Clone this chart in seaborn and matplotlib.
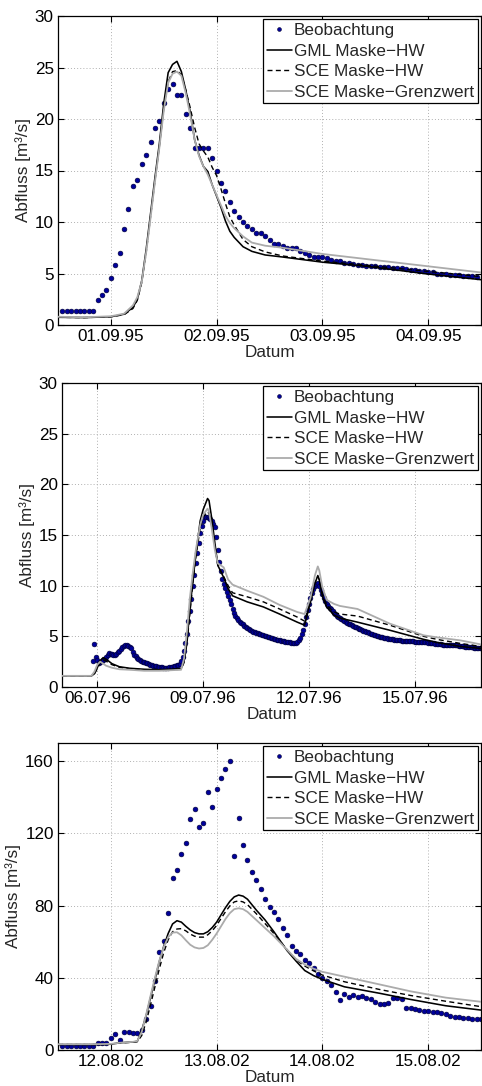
import numpy as np
import pandas as pd
import matplotlib
matplotlib.use("Agg")
import matplotlib.pyplot as plt
import matplotlib.dates as mdates
import seaborn as sns

# ---------------- data ----------------
labels = ["Beobachtung", "GML Maske\u2212HW", "SCE Maske\u2212HW", "SCE Maske\u2212Grenzwert"]

# Event 1: September 1995 (hourly observations)
ev1_ref = "1995-09-01 00:00"
ev1_obs_start = "1995-08-31 13:00"
ev1_obs = [1.4, 1.4, 1.4, 1.4, 1.4, 1.4, 1.4, 1.4,
           2.43, 2.94, 3.4, 4.56, 5.83, 7.02, 9.32, 11.29, 13.5, 14.08,
           15.6, 16.5, 17.8, 19.1, 19.8, 21.6, 22.9, 23.4, 22.3, 22.3,
           20.5, 19.1, 17.2, 17.2, 17.2, 17.2, 16.2, 15.0, 13.8, 13.0,
           11.9, 11.1, 10.5, 10.0, 9.6, 9.3, 8.9, 8.9, 8.6, 8.3,
           7.9, 7.9, 7.7, 7.5, 7.5, 7.5, 7.2, 7.0, 6.8, 6.6,
           6.6, 6.6, 6.5, 6.3, 6.2, 6.2, 6.0, 6.0, 5.9, 5.8,
           5.8, 5.75, 5.7, 5.7, 5.6, 5.6, 5.6, 5.5, 5.5, 5.5,
           5.4, 5.3, 5.3, 5.2, 5.2, 5.1, 5.1, 5.0, 5.0, 4.95,
           4.9, 4.85, 4.85, 4.8, 4.75, 4.75, 4.7]
ev1_sim_hours = [-12, -6, 0, 3, 5, 6, 7, 8, 9, 10, 11, 12, 13, 14, 15, 16, 17, 18,
                 19, 20, 21, 22, 23, 24, 25, 26, 27, 28, 30, 32, 35, 39, 48, 58, 72, 84]
ev1_gml_hw = [0.75, 0.72, 0.8, 1.05, 1.7, 2.5, 4.3, 7.3, 10.8, 14.3, 17.6, 21.5, 24.5,
              25.3, 25.6, 24.6, 22.8, 20.7, 18.0, 16.5, 15.4, 14.9, 13.6, 12.5, 11.4,
              10.1, 9.1, 8.5, 7.6, 7.15, 6.8, 6.6, 6.1, 5.7, 4.95, 4.4]
ev1_sce_hw = [0.75, 0.72, 0.8, 1.0, 1.6, 2.4, 4.1, 7.0, 10.5, 14.0, 17.3, 21.0, 23.6,
              24.6, 24.7, 24.3, 22.8, 21.1, 19.2, 17.6, 16.9, 16.3, 15.3, 14.5, 13.2,
              11.8, 10.5, 9.7, 8.3, 7.6, 7.1, 6.7, 6.2, 5.8, 5.2, 4.7]
ev1_sce_gw = [0.8, 0.75, 0.85, 1.1, 1.9, 2.7, 4.2, 7.0, 10.4, 13.9, 17.2, 20.8, 23.5,
              24.4, 24.6, 24.2, 22.5, 20.4, 18.0, 16.4, 15.4, 14.6, 13.6, 12.6, 11.6,
              10.6, 9.9, 9.4, 8.6, 8.0, 7.7, 7.5, 6.9, 6.4, 5.7, 5.1]
ev1_xlim = ["1995-08-31 12:00", "1995-09-04 12:00"]
ev1_xticks = ["1995-09-01", "1995-09-02", "1995-09-03", "1995-09-04"]
ev1_ylim = [0, 30]
ev1_yticks = [0, 5, 10, 15, 20, 25, 30]

# Event 2: July 1996 (hourly observations)
ev2_ref = "1996-07-06 00:00"
ev2_obs_start = "1996-07-05 21:00"
ev2_obs = [2.6, 4.2, 3.0, 2.7, 2.4, 2.5, 2.6, 2.7, 2.8, 3.0,
           3.2, 3.35, 3.3, 3.25, 3.2, 3.2, 3.3, 3.45, 3.6, 3.75,
           3.9, 4.05, 4.1, 4.1, 4.05, 3.95, 3.8, 3.5, 3.2, 3.05,
           2.9, 2.75, 2.65, 2.6, 2.5, 2.45, 2.4, 2.35, 2.3, 2.2,
           2.15, 2.1, 2.05, 2.05, 2.0, 2.0, 1.95, 1.95, 1.9, 1.9,
           1.9, 1.9, 1.95, 1.95, 2.0, 2.05, 2.1, 2.15, 2.2, 2.3,
           2.6, 3.0, 3.6, 4.3, 5.2, 6.5, 7.5, 8.7, 10.0, 11.1,
           12.2, 13.2, 14.2, 15.2, 15.9, 16.4, 16.8, 16.8, 16.8, 16.7,
           16.6, 16.4, 16.1, 15.8, 14.8, 13.5, 12.3, 11.4, 10.7, 10.2,
           9.8, 9.4, 9.0, 8.6, 8.2, 7.7, 7.3, 7.0, 6.8, 6.6,
           6.45, 6.35, 6.2, 6.05, 5.9, 5.8, 5.7, 5.6, 5.5, 5.45,
           5.4, 5.35, 5.3, 5.25, 5.2, 5.15, 5.1, 5.05, 5.0, 4.95,
           4.9, 4.85, 4.8, 4.75, 4.7, 4.65, 4.6, 4.6, 4.55, 4.5,
           4.5, 4.45, 4.45, 4.4, 4.4, 4.35, 4.35, 4.3, 4.3, 4.4,
           4.6, 4.8, 5.2, 5.6, 6.2, 6.9, 7.6, 8.2, 8.8, 9.3,
           9.7, 10.0, 10.2, 10.3, 10.0, 9.6, 9.2, 8.8, 8.5, 8.2,
           8.0, 7.8, 7.65, 7.5, 7.35, 7.2, 7.05, 6.9, 6.8, 6.7,
           6.6, 6.5, 6.4, 6.3, 6.25, 6.2, 6.1, 6.0, 5.95, 5.9,
           5.8, 5.75, 5.7, 5.6, 5.55, 5.5, 5.45, 5.4, 5.3, 5.25,
           5.2, 5.1, 5.1, 5.05, 5.0, 4.95, 4.9, 4.9, 4.85, 4.8,
           4.8, 4.75, 4.7, 4.7, 4.7, 4.65, 4.65, 4.6, 4.6, 4.6,
           4.55, 4.55, 4.55, 4.5, 4.5, 4.5, 4.5, 4.5, 4.5, 4.45,
           4.45, 4.45, 4.45, 4.45, 4.45, 4.45, 4.4, 4.4, 4.35, 4.35,
           4.3, 4.3, 4.3, 4.25, 4.25, 4.2, 4.2, 4.2, 4.15, 4.15,
           4.15, 4.1, 4.1, 4.1, 4.1, 4.1, 4.1, 4.1, 4.1, 4.05,
           4.0, 4.0, 4.0, 3.95, 3.95, 3.95, 3.9, 3.9, 3.9, 3.85,
           3.85, 3.85, 3.8, 3.8, 3.8, 3.8]
ev2_sim_hours = [-24, -4, -2, 0, 2, 4, 6, 10, 15, 22, 32, 42, 57, 59, 61, 63, 65, 67, 70, 72,
                 75, 76, 78, 80, 82, 86, 89, 92, 102, 113, 124, 136, 141, 145, 148, 150, 151,
                 153, 156, 161, 165, 177, 199, 222, 231, 247, 261]
ev2_gml_hw = [1.1, 1.1, 1.3, 1.9, 2.6, 2.9, 2.75, 2.3, 2.0, 1.85,
              1.75, 1.7, 1.8, 2.6, 4.6, 7.6, 10.5, 13.0, 16.4, 17.5,
              18.6, 18.4, 16.5, 14.2, 12.0, 10.8, 9.7, 9.0, 8.4, 7.9,
              7.2, 6.4, 6.1, 8.4, 10.2, 11.0, 10.6, 9.0, 7.9, 7.1,
              6.8, 6.4, 5.6, 4.7, 4.4, 4.0, 3.8]
ev2_sce_hw = [1.1, 1.1, 1.3, 1.8, 2.4, 2.7, 2.55, 2.2, 1.95, 1.8,
              1.7, 1.65, 1.75, 2.4, 4.3, 7.3, 10.2, 12.8, 15.7, 16.8,
              17.3, 17.1, 16.0, 13.9, 12.0, 10.9, 10.0, 9.3, 8.9, 8.4,
              7.7, 6.9, 6.5, 8.5, 10.3, 10.9, 10.6, 9.3, 8.1, 7.4,
              7.2, 7.0, 6.1, 5.0, 4.7, 4.3, 4.0]
ev2_sce_gw = [1.1, 1.1, 1.5, 2.2, 2.5, 2.3, 2.1, 1.9, 1.75, 1.7,
              1.6, 1.6, 1.7, 2.8, 5.5, 8.8, 11.3, 13.5, 16.0, 17.0,
              17.6, 17.3, 15.5, 13.5, 12.2, 11.8, 10.6, 10.1, 9.5, 8.9,
              8.1, 7.4, 7.2, 8.8, 11.0, 11.9, 11.5, 9.9, 8.6, 8.2,
              8.0, 7.7, 6.25, 5.1, 4.9, 4.6, 4.2]
ev2_xlim = ["1996-07-05 00:00", "1996-07-16 21:00"]
ev2_xticks = ["1996-07-06", "1996-07-09", "1996-07-12", "1996-07-15"]
ev2_ylim = [0, 30]
ev2_yticks = [0, 5, 10, 15, 20, 25, 30]

# Event 3: August 2002 (hourly observations)
ev3_ref = "2002-08-12 00:00"
ev3_obs_start = "2002-08-11 13:00"
ev3_obs = [2.0, 2.0, 2.0, 2.0, 2.0, 2.0, 2.0, 2.0,
           3.7, 3.7, 4.1, 6.8, 9.0, 5.5, 10.0, 9.8, 9.2, 9.2,
           11.3, 17.0, 24.6, 38.2, 54.2, 60.1, 76.1, 95.1, 99.5, 108.7,
           114.7, 127.7, 133.7, 123.7, 125.8, 142.6, 134.6, 144.7, 150.7, 155.5,
           159.8, 107.6, 128.6, 113.6, 105.3, 98.7, 94.4, 88.9, 83.5, 79.3,
           76.2, 72.3, 67.3, 63.6, 57.7, 55.0, 52.9, 49.8, 47.9, 45.6,
           42.0, 39.6, 38.4, 36.0, 32.3, 27.7, 31.0, 29.5, 30.2, 29.1,
           29.9, 29.0, 28.4, 26.7, 25.4, 25.4, 25.8, 29.0, 29.0, 28.0,
           23.4, 23.1, 22.5, 22.1, 21.8, 21.6, 21.2, 21.2, 20.3, 19.7,
           19.0, 18.4, 18.1, 17.7, 17.5, 17.2, 17.0, 17.0]
ev3_sim_hours = [-12, -4, 0, 2, 5, 6, 7, 8, 9, 10, 11, 12, 13, 14, 15, 16, 17, 18, 19, 20,
                 21, 22, 23, 24, 25, 26, 27, 28, 29, 30, 31, 33, 35, 37, 40, 42, 44, 46, 48,
                 53, 61, 68, 76, 84]
ev3_gml_hw = [3.0, 3.0, 3.2, 4.0, 4.4, 4.8, 11.0, 19.0, 29.0, 39.0,
              49.0, 57.5, 64.5, 69.8, 71.6, 70.8, 68.5, 66.5, 65.0, 64.3, 64.3, 65.5, 67.8,
              70.8, 74.8, 78.8, 82.3, 84.8, 85.8, 85.2, 83.5,
              77.5, 72.0, 65.5, 55.0, 49.3, 44.0, 41.2, 39.1,
              35.0, 31.4, 28.0, 24.5, 22.1]
ev3_sce_hw = [3.0, 3.0, 3.2, 3.9, 4.3, 4.6, 8.0, 15.5, 25.0, 35.0,
              45.0, 54.0, 61.0, 65.5, 67.0, 67.2, 66.0, 64.2, 63.0, 62.5, 62.5, 63.8, 66.0,
              69.0, 72.8, 76.5, 79.8, 82.0, 82.6, 82.0, 80.5,
              75.5, 70.0, 64.5, 55.5, 50.0, 46.5, 43.8, 41.5,
              37.8, 33.5, 30.2, 27.0, 24.0]
ev3_sce_gw = [3.2, 3.2, 3.4, 4.0, 4.5, 5.0, 10.0, 19.5, 30.0, 40.0,
              49.5, 57.0, 62.5, 65.0, 65.2, 63.5, 60.8, 58.3, 56.8, 56.2, 56.5, 58.0, 61.0,
              64.5, 68.5, 72.5, 75.8, 78.0, 78.5, 78.0, 76.5,
              72.0, 67.5, 63.0, 55.5, 50.5, 47.3, 45.0, 43.3,
              40.6, 36.3, 32.5, 29.0, 26.7]
ev3_xlim = ["2002-08-11 12:00", "2002-08-15 12:00"]
ev3_xticks = ["2002-08-12", "2002-08-13", "2002-08-14", "2002-08-15"]
ev3_ylim = [0, 170]
ev3_yticks = [0, 40, 80, 120, 160]

# ---------------- style ----------------
sns.set_theme(style="white")
plt.rcParams["font.family"] = ["Liberation Sans", "DejaVu Sans"]
plt.rcParams.update({
    "font.size": 12.3,
    "axes.edgecolor": "black",
    "axes.linewidth": 0.9,
    "xtick.direction": "in",
    "ytick.direction": "in",
    "xtick.top": True,
    "ytick.right": True,
    "xtick.bottom": True,
    "ytick.left": True,
    "xtick.major.size": 4,
    "ytick.major.size": 4,
    "xtick.major.width": 0.8,
    "ytick.major.width": 0.8,
    "xtick.color": "black",
    "ytick.color": "black",
    "xtick.labelsize": 12.3,
    "ytick.labelsize": 12.3,
    "axes.labelsize": 12.3,
    "legend.fontsize": 12.3,
})

OBS_FACE = "#00009a"
OBS_EDGE = "#000030"
GML_COLOR = "black"
SCE_COLOR = "black"
GW_COLOR = "#ababab"

W, H = 482, 1086
fig = plt.figure(figsize=(W / 100, H / 100), dpi=100)

# axes boxes in pixels: left, top, right, bottom
boxes = [(58, 16, 481, 325), (62, 383, 481, 687), (58, 743, 481, 1050)]


def draw_panel(ax, ref, obs_start, obs, hours, gml, sce, gw, xlim, xticks, ylim, yticks):
    t_obs = pd.date_range(obs_start, periods=len(obs), freq="h")
    df_obs = pd.DataFrame({"Datum": t_obs, "Abfluss": obs})
    t_sim = pd.Timestamp(ref) + pd.to_timedelta(np.asarray(hours, dtype=float), unit="h")

    sns.scatterplot(data=df_obs, x="Datum", y="Abfluss", ax=ax, s=12,
                    color=OBS_FACE, edgecolor=OBS_EDGE, linewidth=0.4,
                    label=labels[0], zorder=2)
    specs = [(gml, GML_COLOR, "-", 1.15, labels[1]),
             (sce, SCE_COLOR, (0, (3.6, 2.4)), 1.0, labels[2]),
             (gw, GW_COLOR, "-", 1.3, labels[3])]
    for vals, col, ls, lw, lab in specs:
        df = pd.DataFrame({"Datum": t_sim, "Abfluss": vals})
        sns.lineplot(data=df, x="Datum", y="Abfluss", ax=ax, color=col,
                     linestyle=ls, linewidth=lw, label=lab,
                     estimator=None, sort=False, zorder=3)

    ax.set_xlim(mdates.date2num(pd.Timestamp(xlim[0])), mdates.date2num(pd.Timestamp(xlim[1])))
    ax.set_ylim(*ylim)
    ax.set_xticks([mdates.date2num(pd.Timestamp(t)) for t in xticks])
    ax.xaxis.set_major_formatter(mdates.DateFormatter("%d.%m.%y"))
    ax.set_yticks(yticks)
    ax.tick_params(axis="x", pad=3)
    ax.tick_params(axis="y", pad=3)
    ax.grid(True, linestyle=(0, (1, 2.2)), color="#b0b0b0", linewidth=0.7)
    ax.set_axisbelow(True)
    ax.set_xlabel("Datum", labelpad=0.5)
    ax.set_ylabel("Abfluss [m\u00b3/s]", labelpad=3)
    for sp in ax.spines.values():
        sp.set_color("black")
        sp.set_linewidth(0.9)

    leg = ax.legend(loc="upper right", bbox_to_anchor=(1.0, 1.0), borderaxespad=0.2,
                    frameon=True, fancybox=False, framealpha=1, edgecolor="black",
                    handlelength=1.45, handletextpad=0.12, borderpad=0.22,
                    labelspacing=0.32, scatterpoints=1, scatteryoffsets=[0.5],
                    markerscale=0.8)
    leg.get_frame().set_linewidth(0.9)


events = [
    (ev1_ref, ev1_obs_start, ev1_obs, ev1_sim_hours, ev1_gml_hw, ev1_sce_hw, ev1_sce_gw,
     ev1_xlim, ev1_xticks, ev1_ylim, ev1_yticks),
    (ev2_ref, ev2_obs_start, ev2_obs, ev2_sim_hours, ev2_gml_hw, ev2_sce_hw, ev2_sce_gw,
     ev2_xlim, ev2_xticks, ev2_ylim, ev2_yticks),
    (ev3_ref, ev3_obs_start, ev3_obs, ev3_sim_hours, ev3_gml_hw, ev3_sce_hw, ev3_sce_gw,
     ev3_xlim, ev3_xticks, ev3_ylim, ev3_yticks),
]

for (l, t, r, b), ev in zip(boxes, events):
    ax = fig.add_axes([l / W, 1 - b / H, (r - l) / W, (b - t) / H])
    draw_panel(ax, *ev)

fig.savefig("out.png", dpi=100, facecolor="white")
